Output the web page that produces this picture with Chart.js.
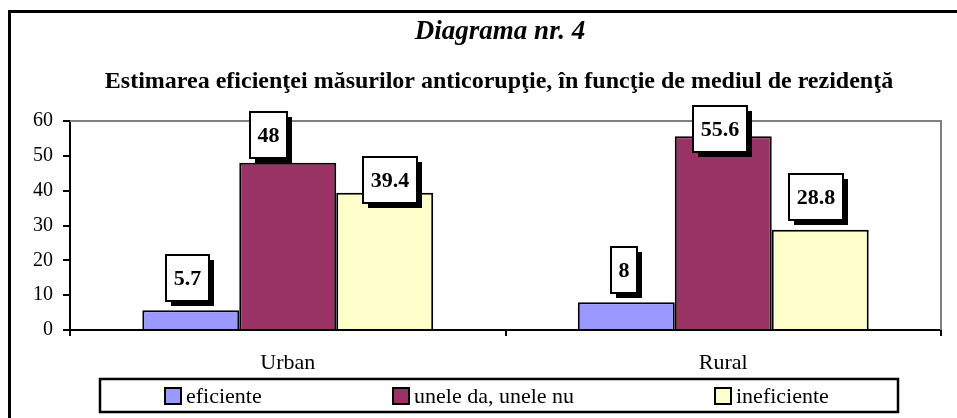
<!DOCTYPE html>
<html>
<head>
<meta charset="utf-8">
<script src="https://cdn.jsdelivr.net/npm/chart.js@4/dist/chart.umd.min.js"></script>
<style>
  html, body { margin: 0; padding: 0; background: #fff; }
  #wrap { width: 957px; height: 418px; position: relative; }
</style>
</head>
<body>
<div id="wrap"><canvas id="c" width="957" height="418"></canvas></div>
<script>
// ---- data ----
const categories = ['Urban', 'Rural'];
const seriesNames = ['eficiente', 'unele da, unele nu', 'ineficiente'];
const eficiente = [5.7, 8];
const uneleDaUneleNu = [48, 55.6];
const ineficiente = [39.4, 28.8];
const yMin = 0, yMax = 60, yStep = 10;
const titleText = 'Diagrama nr. 4';
const subtitleText = 'Estimarea eficienţei măsurilor anticorupţie, în funcţie de mediul de rezidenţă';

// ---- styles ----
const colors = ['#9999FF', '#993366', '#FFFFCC'];
const SERIF = '"Liberation Serif", "Times New Roman", serif';
// manual label nudges (relative to bar top-centre), per dataset, per category
const labelNudge = [
  [[-3, -9], [-2, -9]],
  [[-19, -5], [-3, 16]],
  [[5, 10], [-4, -10]]
];

const frame = {
  id: 'frame',
  beforeDraw(chart) {
    const ctx = chart.ctx;
    ctx.save();
    ctx.fillStyle = '#fff';
    ctx.fillRect(0, 0, chart.width, chart.height);
    ctx.fillStyle = '#000';
    ctx.fillRect(8, 10, 3, chart.height - 10);
    ctx.fillRect(8, 10, chart.width - 8, 3);
    // titles
    ctx.textAlign = 'center';
    ctx.textBaseline = 'alphabetic';
    ctx.font = 'italic bold 27px ' + SERIF;
    ctx.fillText(titleText, 500, 39);
    ctx.font = 'bold 24px ' + SERIF;
    ctx.fillText(subtitleText, 499, 88);
    ctx.restore();
  },
  beforeDatasetsDraw(chart) {
    const { ctx, chartArea: a } = chart;
    ctx.save();
    ctx.strokeStyle = '#808080';
    ctx.lineWidth = 2;
    ctx.beginPath();
    ctx.moveTo(a.left, a.top);
    ctx.lineTo(a.right, a.top);
    ctx.lineTo(a.right, a.bottom);
    ctx.stroke();
    ctx.restore();
  }
};

const boxedLabels = {
  id: 'boxedLabels',
  afterDatasetsDraw(chart) {
    const ctx = chart.ctx;
    ctx.save();
    ctx.font = 'bold 22px ' + SERIF;
    chart.data.datasets.forEach((ds, di) => {
      const meta = chart.getDatasetMeta(di);
      meta.data.forEach((bar, i) => {
        const txt = String(ds.data[i]);
        const tw = ctx.measureText(txt).width;
        const w = Math.round(tw + 15), h = 46;
        const n = labelNudge[di][i];
        const cx = bar.x + n[0];
        const bottom = bar.y + n[1];
        const x = Math.round(cx - w / 2), y = Math.round(bottom - h);
        ctx.fillStyle = '#000';
        ctx.fillRect(x + 5, y + 5, w, h);
        ctx.fillStyle = '#fff';
        ctx.fillRect(x, y, w, h);
        ctx.strokeStyle = '#000';
        ctx.lineWidth = 2;
        ctx.strokeRect(x, y, w, h);
        ctx.fillStyle = '#000';
        ctx.textAlign = 'center';
        ctx.textBaseline = 'middle';
        ctx.fillText(txt, x + w / 2, y + h / 2 + 1);
      });
    });
    ctx.restore();
  }
};

const boxLegend = {
  id: 'boxLegend',
  afterDraw(chart) {
    const ctx = chart.ctx;
    ctx.save();
    const bx = 100, by = 379, bw = 798, bh = 33;
    ctx.fillStyle = '#fff';
    ctx.fillRect(bx, by, bw, bh);
    ctx.strokeStyle = '#000';
    ctx.lineWidth = 2.5;
    ctx.strokeRect(bx, by, bw, bh);
    const starts = [165, 393, 715];
    ctx.font = '22px ' + SERIF;
    ctx.textBaseline = 'middle';
    ctx.textAlign = 'left';
    chart.data.datasets.forEach((ds, i) => {
      const sx = starts[i];
      ctx.fillStyle = ds.backgroundColor;
      ctx.fillRect(sx, 388, 16, 16);
      ctx.lineWidth = 2;
      ctx.strokeStyle = '#000';
      ctx.strokeRect(sx, 388, 16, 16);
      ctx.fillStyle = '#000';
      ctx.fillText(ds.label, sx + 21, 397);
    });
    ctx.restore();
  }
};

function build() {
  const series = [eficiente, uneleDaUneleNu, ineficiente];
  new Chart(document.getElementById('c'), {
    type: 'bar',
    data: {
      labels: categories,
      datasets: series.map((vals, i) => ({
        label: seriesNames[i],
        data: vals,
        backgroundColor: colors[i],
        borderColor: '#000',
        borderWidth: 2,
        borderSkipped: 'bottom',
        categoryPercentage: 0.668,
        barPercentage: 1
      }))
    },
    options: {
      responsive: false,
      animation: false,
      layout: { padding: { left: 0, right: 16, top: 121, bottom: 48 } },
      plugins: {
        legend: { display: false },
        tooltip: { enabled: false },
        title: { display: false },
        subtitle: { display: false }
      },
      scales: {
        x: {
          afterFit: s => { s.height = 40; },
          grid: { drawOnChartArea: false, drawTicks: true, tickLength: 6, color: '#000', lineWidth: 2, offset: true },
          border: { display: true, color: '#000', width: 2 },
          ticks: { color: '#000', font: { family: SERIF, size: 22 }, padding: 14 }
        },
        y: {
          min: yMin, max: yMax,
          afterFit: s => { s.width = 70; },
          grid: { drawOnChartArea: false, drawTicks: true, tickLength: 7, color: '#000', lineWidth: 2 },
          border: { display: true, color: '#000', width: 2 },
          ticks: { stepSize: yStep, color: '#000', font: { family: SERIF, size: 20 }, padding: 10 }
        }
      }
    },
    plugins: [frame, boxedLabels, boxLegend]
  });
}

const fontLoads = [
  'italic bold 27px "Liberation Serif"',
  'bold 24px "Liberation Serif"',
  'bold 22px "Liberation Serif"',
  '22px "Liberation Serif"',
  '20px "Liberation Serif"'
].map(f => document.fonts.load(f, 'Ab1ăţ').catch(() => null));
Promise.all(fontLoads).then(build, build);
</script>
</body>
</html>
